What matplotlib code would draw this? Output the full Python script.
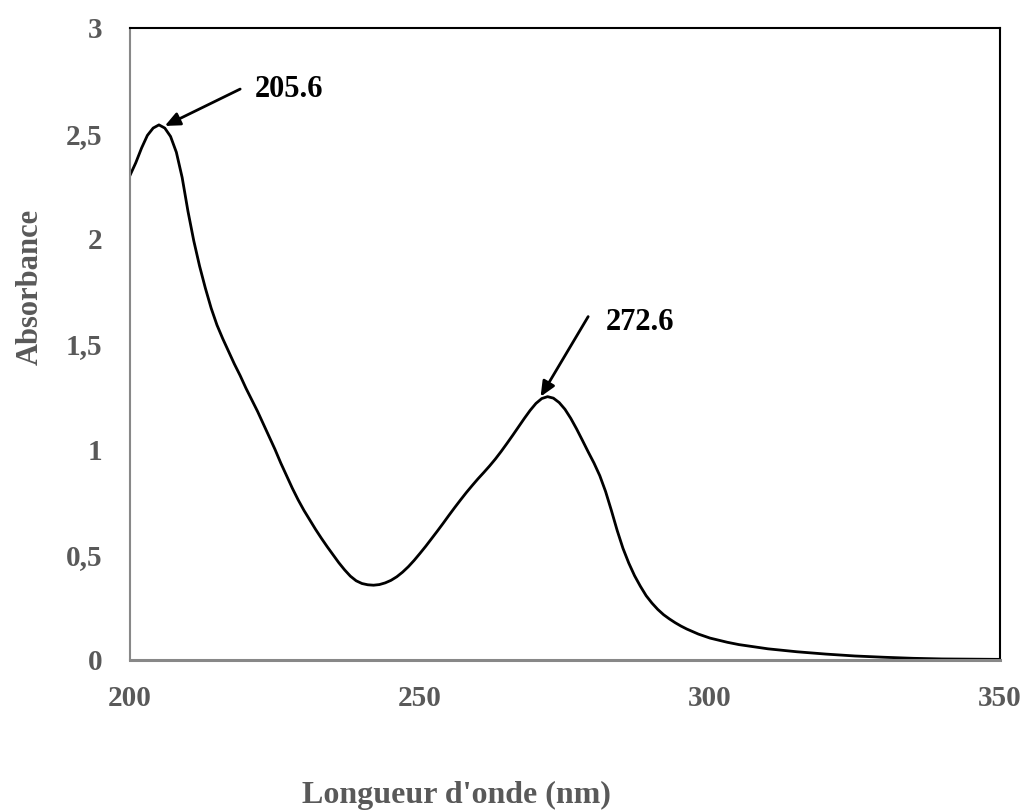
import matplotlib
matplotlib.use("Agg")
import matplotlib.pyplot as plt

wavelength = [200, 201, 202, 203, 204, 205, 206, 207, 208, 209, 210, 211, 212, 213, 214, 215, 216, 217, 218, 219,
              220, 221, 222, 223, 224, 225, 226, 227, 228, 229, 230, 231, 232, 233, 234, 235, 236, 237, 238, 239,
              240, 241, 242, 243, 244, 245, 246, 247, 248, 249, 250, 251, 252, 253, 254, 255, 256, 257, 258, 259,
              260, 261, 262, 263, 264, 265, 266, 267, 268, 269, 270, 271, 272, 273, 274, 275, 276, 277, 278, 279,
              280, 281, 282, 283, 284, 285, 286, 287, 288, 289, 290, 291, 292, 293, 294, 295, 296, 298,
              300, 303, 305, 310, 315, 320, 325, 330, 335, 340, 345, 350]
absorbance = [2.30, 2.36, 2.43, 2.49, 2.525, 2.54, 2.525, 2.485, 2.41, 2.29, 2.13, 1.99, 1.87, 1.765, 1.67, 1.59, 1.525, 1.465, 1.405, 1.35,
              1.29, 1.235, 1.18, 1.12, 1.06, 1.00, 0.935, 0.875, 0.815, 0.76, 0.71, 0.665, 0.62, 0.578, 0.538, 0.50, 0.462, 0.428, 0.398, 0.376,
              0.363, 0.357, 0.355, 0.358, 0.366, 0.378, 0.395, 0.417, 0.443, 0.473, 0.506, 0.54, 0.576, 0.612, 0.649, 0.687, 0.724, 0.76, 0.795, 0.828,
              0.86, 0.89, 0.921, 0.954, 0.99, 1.028, 1.067, 1.107, 1.147, 1.185, 1.218, 1.241, 1.25, 1.243, 1.222, 1.19, 1.147, 1.097, 1.043, 0.988,
              0.935, 0.875, 0.80, 0.71, 0.615, 0.53, 0.46, 0.40, 0.35, 0.305, 0.27, 0.24, 0.215, 0.195, 0.177, 0.161, 0.147, 0.123,
              0.104, 0.084, 0.073, 0.053, 0.039, 0.028, 0.019, 0.013, 0.008, 0.005, 0.004, 0.003]

x_ticks = [200, 250, 300, 350]
y_ticks = [0, 0.5, 1, 1.5, 2, 2.5, 3]
y_tick_labels = ["0", "0,5", "1", "1,5", "2", "2,5", "3"]

peak_labels = ["205.6", "272.6"]
peak_points = [(206.0, 2.535), (270.8, 1.25)]
label_points = [(219.0, 2.71), (279.0, 1.63)]
text_points = [(221.5, 2.71), (282.0, 1.60)]

plt.rcParams['font.family'] = ['Liberation Serif', 'DejaVu Serif']
gray = '#595959'

fig = plt.figure(figsize=(10.29, 8.11), dpi=100)
ax = fig.add_axes([0.1263, 0.1862, 0.9718 - 0.1263, 0.9655 - 0.1862])

ax.plot(wavelength, absorbance, color='black', lw=2.0, solid_joinstyle='round')
ax.set_xlim(200, 350)
ax.set_ylim(0, 3)
ax.set_xticks(x_ticks)
ax.set_xticklabels([str(t) for t in x_ticks])
ax.set_yticks(y_ticks)
ax.set_yticklabels(y_tick_labels)
ax.tick_params(axis='both', length=0, labelsize=21, colors=gray)
ax.tick_params(axis='x', pad=18)
ax.tick_params(axis='y', pad=20)
for lab in ax.get_xticklabels() + ax.get_yticklabels():
    lab.set_fontweight('bold')

ax.spines['left'].set_color('#888888')
ax.spines['left'].set_linewidth(1.5)
ax.spines['bottom'].set_color('#888888')
ax.spines['bottom'].set_linewidth(2.2)
ax.spines['top'].set_color('black')
ax.spines['top'].set_linewidth(1.5)
ax.spines['right'].set_color('black')
ax.spines['right'].set_linewidth(1.5)

for lab, pk, st, tp in zip(peak_labels, peak_points, label_points, text_points):
    ax.annotate('', xy=pk, xytext=st,
                arrowprops=dict(arrowstyle='-|>,head_length=0.9,head_width=0.4',
                                color='black', lw=2.0, shrinkA=0, shrinkB=0))
    ax.text(tp[0], tp[1], lab, fontsize=22, fontweight='bold', color='black',
            ha='left', va='center')

fig.text(30 / 1029, 1 - 287 / 811, 'Absorbance', rotation=90, fontsize=22,
         fontweight='bold', color=gray, ha='center', va='center')
fig.text(456 / 1029, 1 - 795 / 811, "Longueur d'onde (nm)", fontsize=23,
         fontweight='bold', color=gray, ha='center', va='center')

fig.savefig('out.png', dpi=100, facecolor='white')
